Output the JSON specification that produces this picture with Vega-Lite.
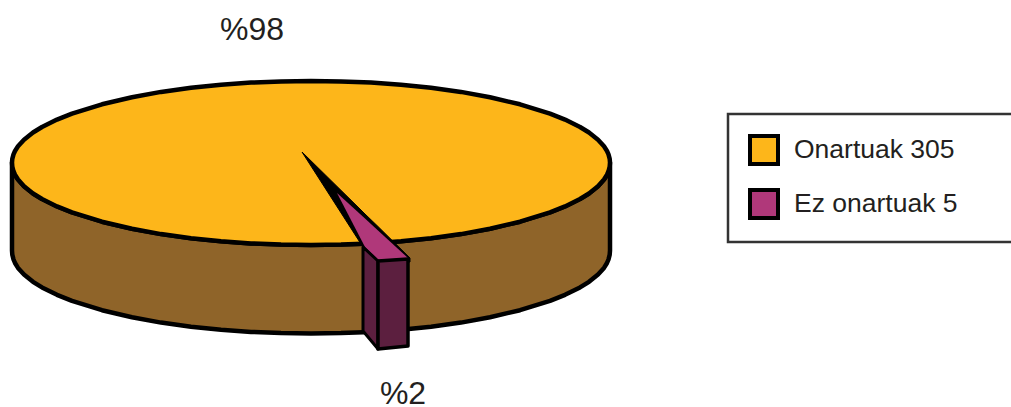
{"$schema":"https://vega.github.io/schema/vega-lite/v6.json","width":1011,"height":407,"autosize":{"type":"none"},"padding":0,"background":"white","config":{"view":{"stroke":null}},
"datasets":{
"side":[{"x":12,"y":162.5,"y2":250.5},{"x":12.3,"y":166.6,"y2":254.6},{"x":13.5,"y":171.2,"y2":259.4},{"x":15,"y":174.7,"y2":263},{"x":18,"y":179.5,"y2":267.9},{"x":24,"y":186.2,"y2":274.5},{"x":33,"y":193.5,"y2":281.8},{"x":42,"y":199,"y2":287.4},{"x":57,"y":206.4,"y2":294.8},{"x":72,"y":212.4,"y2":300.9},{"x":102,"y":221.7,"y2":310.2},{"x":132,"y":228.7,"y2":317.2},{"x":161,"y":234.1,"y2":322.6},{"x":191,"y":238.2,"y2":326.7},{"x":221,"y":241.2,"y2":329.7},{"x":251,"y":243.4,"y2":331.9},{"x":281,"y":244.6,"y2":333.1},{"x":311,"y":245,"y2":333.5},{"x":341,"y":244.6,"y2":333.1},{"x":371,"y":243.4,"y2":331.9},{"x":401,"y":241.2,"y2":329.7},{"x":431,"y":238.2,"y2":326.7},{"x":461,"y":234.1,"y2":322.6},{"x":490,"y":228.7,"y2":317.2},{"x":520,"y":221.7,"y2":310.2},{"x":550,"y":212.4,"y2":300.9},{"x":565,"y":206.4,"y2":294.8},{"x":580,"y":199,"y2":287.4},{"x":589,"y":193.5,"y2":281.8},{"x":598,"y":186.2,"y2":274.5},{"x":604,"y":179.5,"y2":267.9},{"x":607,"y":174.7,"y2":263},{"x":608.5,"y":171.2,"y2":259.4},{"x":609.7,"y":166.6,"y2":254.6},{"x":610,"y":162.5,"y2":250.5}],
"top":[{"x":12,"y":162.5,"y2":162.5,"grup":"Onartuak 305"},{"x":12.3,"y":158.9,"y2":166.6,"grup":"Onartuak 305"},{"x":13.5,"y":154.4,"y2":171.2,"grup":"Onartuak 305"},{"x":15,"y":151,"y2":174.7,"grup":"Onartuak 305"},{"x":18,"y":146.3,"y2":179.5,"grup":"Onartuak 305"},{"x":24,"y":139.7,"y2":186.2,"grup":"Onartuak 305"},{"x":33,"y":132.5,"y2":193.5,"grup":"Onartuak 305"},{"x":42,"y":127,"y2":199,"grup":"Onartuak 305"},{"x":57,"y":119.6,"y2":206.4,"grup":"Onartuak 305"},{"x":72,"y":113.6,"y2":212.4,"grup":"Onartuak 305"},{"x":102,"y":104.3,"y2":221.7,"grup":"Onartuak 305"},{"x":132,"y":97.3,"y2":228.7,"grup":"Onartuak 305"},{"x":161,"y":91.9,"y2":234.1,"grup":"Onartuak 305"},{"x":191,"y":87.8,"y2":238.2,"grup":"Onartuak 305"},{"x":221,"y":84.8,"y2":241.2,"grup":"Onartuak 305"},{"x":251,"y":82.6,"y2":243.4,"grup":"Onartuak 305"},{"x":281,"y":81.4,"y2":244.6,"grup":"Onartuak 305"},{"x":311,"y":81,"y2":245,"grup":"Onartuak 305"},{"x":341,"y":81.4,"y2":244.6,"grup":"Onartuak 305"},{"x":371,"y":82.6,"y2":243.4,"grup":"Onartuak 305"},{"x":401,"y":84.8,"y2":241.2,"grup":"Onartuak 305"},{"x":431,"y":87.8,"y2":238.2,"grup":"Onartuak 305"},{"x":461,"y":91.9,"y2":234.1,"grup":"Onartuak 305"},{"x":490,"y":97.3,"y2":228.7,"grup":"Onartuak 305"},{"x":520,"y":104.3,"y2":221.7,"grup":"Onartuak 305"},{"x":550,"y":113.6,"y2":212.4,"grup":"Onartuak 305"},{"x":565,"y":119.6,"y2":206.4,"grup":"Onartuak 305"},{"x":580,"y":127,"y2":199,"grup":"Onartuak 305"},{"x":589,"y":132.5,"y2":193.5,"grup":"Onartuak 305"},{"x":598,"y":139.7,"y2":186.2,"grup":"Onartuak 305"},{"x":604,"y":146.3,"y2":179.5,"grup":"Onartuak 305"},{"x":607,"y":151,"y2":174.7,"grup":"Onartuak 305"},{"x":608.5,"y":154.4,"y2":171.2,"grup":"Onartuak 305"},{"x":609.7,"y":158.9,"y2":166.6,"grup":"Onartuak 305"},{"x":610,"y":162.5,"y2":162.5,"grup":"Onartuak 305"}],
"wedge":[{"x":302,"y":152,"y2":152},{"x":361,"y":210,"y2":244},{"x":365,"y":214,"y2":249},{"x":378,"y":226.5,"y2":263},{"x":410,"y":258,"y2":262}],
"slice":[{"x":337,"y":193,"y2":193,"grup":"Ez onartuak 5"},{"x":365,"y":218.6,"y2":247,"grup":"Ez onartuak 5"},{"x":378,"y":230.5,"y2":260,"grup":"Ez onartuak 5"},{"x":408,"y":258,"y2":258,"grup":"Ez onartuak 5"}],
"faceLeft":[{"x":363,"y":247,"y2":331},{"x":378,"y":261,"y2":349}],
"faceRight":[{"x":378,"y":261,"y2":349},{"x":408,"y":259,"y2":346}],
"box":[{"x":728,"x2":1016,"y":114,"y2":242}],
"labels":[{"x":252,"y":30,"t":"%98"},{"x":403,"y":394,"t":"%2"}]
},
"layer":[
{"data":{"name":"box"},"mark":{"type":"rect","fill":"white","stroke":"#333333","strokeWidth":2.5,"clip":true},"encoding":{"x":{"field":"x","type":"quantitative","scale":{"domain":[0,1011],"nice":false,"zero":false},"axis":null},"x2":{"field":"x2"},"y":{"field":"y","type":"quantitative","scale":{"domain":[407,0],"nice":false,"zero":false},"axis":null},"y2":{"field":"y2"}}},
{"data":{"name":"side"},"mark":{"type":"area","fill":"#8f6429","stroke":"black","strokeWidth":4.5,"strokeJoin":"round"},"encoding":{"x":{"field":"x","type":"quantitative"},"y":{"field":"y","type":"quantitative"},"y2":{"field":"y2"}}},
{"data":{"name":"top"},"mark":{"type":"area","stroke":"black","strokeWidth":4.5,"strokeJoin":"round"},"encoding":{"x":{"field":"x","type":"quantitative"},"y":{"field":"y","type":"quantitative"},"y2":{"field":"y2"},"color":{"field":"grup","type":"nominal","scale":{"domain":["Onartuak 305","Ez onartuak 5"],"range":["#fdb61a","#b0387a"]},"legend":{"orient":"none","legendX":748,"legendY":134,"title":null,"symbolType":"square","symbolSize":784,"symbolStrokeColor":"black","symbolStrokeWidth":4,"symbolOpacity":1,"labelFont":"Liberation Sans","labelFontSize":26.5,"labelColor":"#231f20","labelOffset":14,"rowPadding":10,"padding":0,"zindex":1,"labelLimit":300}}}},
{"data":{"name":"wedge"},"mark":{"type":"area","fill":"black","stroke":"black","strokeWidth":1},"encoding":{"x":{"field":"x","type":"quantitative"},"y":{"field":"y","type":"quantitative"},"y2":{"field":"y2"}}},
{"data":{"name":"slice"},"mark":{"type":"area"},"encoding":{"x":{"field":"x","type":"quantitative"},"y":{"field":"y","type":"quantitative"},"y2":{"field":"y2"},"color":{"field":"grup","type":"nominal"}}},
{"data":{"name":"faceLeft"},"mark":{"type":"area","fill":"#5c1f3f","stroke":"black","strokeWidth":3,"strokeJoin":"round"},"encoding":{"x":{"field":"x","type":"quantitative"},"y":{"field":"y","type":"quantitative"},"y2":{"field":"y2"}}},
{"data":{"name":"faceRight"},"mark":{"type":"area","fill":"#5c1f3f","stroke":"black","strokeWidth":3.5,"strokeJoin":"round"},"encoding":{"x":{"field":"x","type":"quantitative"},"y":{"field":"y","type":"quantitative"},"y2":{"field":"y2"}}},
{"data":{"name":"labels"},"mark":{"type":"text","font":"Liberation Sans","fontSize":32,"color":"#231f20","align":"center","baseline":"middle"},"encoding":{"x":{"field":"x","type":"quantitative"},"y":{"field":"y","type":"quantitative"},"text":{"field":"t"}}}
]}
